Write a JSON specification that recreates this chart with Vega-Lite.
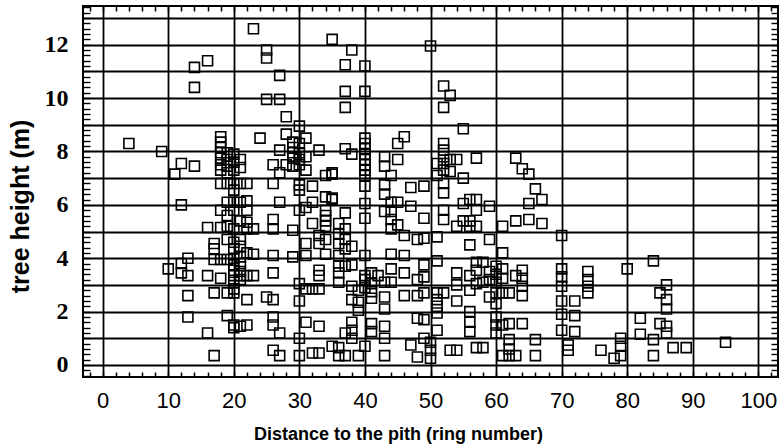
{
  "$schema": "https://vega.github.io/schema/vega-lite/v6.json",
  "width": 695,
  "height": 371,
  "autosize": {"type": "none"},
  "padding": {"left": 83, "top": 6, "right": 2, "bottom": 67},
  "background": "white",
  "config": {
    "view": {"stroke": "black", "strokeWidth": 2},
    "axis": {"domain": false}
  },
  "data": {"values": [
    {"d":4,"h":8.3},{"d":9,"h":8.0},{"d":11,"h":7.15},{"d":12,"h":7.55},{"d":14,"h":7.45},{"d":14,"h":11.15},{"d":16,"h":11.4},{"d":14,"h":10.4},{"d":12,"h":6.0},{"d":16,"h":5.15},{"d":18,"h":5.15},{"d":17,"h":4.55},{"d":17,"h":4.35},{"d":13,"h":4.0},{"d":12,"h":3.8},{"d":10,"h":3.6},{"d":12,"h":3.45},{"d":13,"h":3.35},{"d":16,"h":3.35},{"d":18,"h":3.25},{"d":17,"h":3.95},{"d":18,"h":3.95},{"d":13,"h":2.6},{"d":17,"h":2.7},{"d":13,"h":1.8},{"d":16,"h":1.2},{"d":17,"h":0.35},{"d":19,"h":1.85},{"d":18,"h":8.55},{"d":18,"h":8.35},{"d":18,"h":8.15},{"d":18,"h":7.95},{"d":18,"h":7.75},{"d":18,"h":7.5},{"d":18,"h":7.3},{"d":19,"h":7.95},{"d":19,"h":7.7},{"d":19,"h":7.45},{"d":19,"h":7.2},{"d":18,"h":6.8},{"d":19,"h":6.8},{"d":18,"h":5.8},{"d":19,"h":6.1},{"d":19,"h":5.6},{"d":19,"h":4.7},{"d":19,"h":5.2},{"d":19,"h":3.95},{"d":19,"h":2.7},
    {"d":20,"h":7.9},{"d":20,"h":7.6},{"d":20,"h":7.3},{"d":20,"h":6.8},{"d":20,"h":6.55},{"d":20,"h":6.1},{"d":20,"h":5.8},{"d":20,"h":5.1},{"d":20,"h":4.6},{"d":20,"h":4.35},{"d":20,"h":4.0},{"d":20,"h":3.75},{"d":20,"h":3.55},{"d":20,"h":3.35},{"d":20,"h":3.1},{"d":20,"h":2.85},{"d":20,"h":2.7},{"d":20,"h":1.4},{"d":20,"h":1.5},{"d":21,"h":1.45},{"d":22,"h":1.5},{"d":21,"h":7.7},{"d":21,"h":7.4},{"d":21,"h":6.8},{"d":21,"h":6.1},{"d":21,"h":5.4},{"d":21,"h":4.7},{"d":21,"h":4.45},{"d":21,"h":4.05},{"d":21,"h":3.8},{"d":21,"h":3.5},{"d":21,"h":3.35},{"d":21,"h":3.2},{"d":22,"h":5.8},{"d":22,"h":6.15},{"d":22,"h":5.1},{"d":22,"h":5.35},{"d":22,"h":4.2},{"d":22,"h":3.35},{"d":22,"h":2.45},{"d":23,"h":5.1},{"d":23,"h":4.15},{"d":23,"h":3.35},{"d":23,"h":12.6},{"d":22,"h":6.8},
    {"d":25,"h":11.8},{"d":25,"h":11.5},{"d":35,"h":12.2},{"d":27,"h":10.85},{"d":25,"h":9.95},{"d":27,"h":9.95},{"d":28,"h":9.3},{"d":30,"h":8.95},{"d":24,"h":8.5},{"d":28,"h":8.65},{"d":31,"h":8.5},{"d":29,"h":8.35},{"d":29,"h":8.15},{"d":29,"h":7.95},{"d":29,"h":7.75},{"d":29,"h":7.45},{"d":27,"h":8.05},{"d":33,"h":8.05},{"d":31,"h":7.8},{"d":26,"h":7.5},{"d":28,"h":7.5},{"d":30,"h":7.5},{"d":27,"h":7.2},{"d":34,"h":7.1},{"d":35,"h":7.15},{"d":26,"h":6.8},{"d":30,"h":6.75},{"d":30,"h":6.55},{"d":32,"h":6.7},{"d":34,"h":6.3},{"d":35,"h":6.25},{"d":27,"h":6.1},{"d":30,"h":5.8},{"d":31,"h":5.9},{"d":32,"h":6.1},{"d":34,"h":5.8},{"d":34,"h":5.6},{"d":34,"h":5.4},{"d":34,"h":5.2},{"d":26,"h":5.45},{"d":26,"h":5.1},{"d":29,"h":5.05},{"d":32,"h":5.3},{"d":33,"h":4.85},{"d":33,"h":4.55},{"d":34,"h":4.7},{"d":36,"h":4.55},{"d":31,"h":4.55},{"d":26,"h":4.1},{"d":29,"h":4.05},{"d":31,"h":4.1},{"d":34,"h":4.15},{"d":36,"h":4.1},{"d":26,"h":3.45},{"d":33,"h":3.55},{"d":33,"h":3.35},{"d":36,"h":3.45},{"d":36,"h":3.1},{"d":30,"h":3.05},{"d":31,"h":2.85},{"d":32,"h":2.85},{"d":33,"h":2.85},{"d":25,"h":2.55},{"d":26,"h":2.45},{"d":30,"h":2.4},{"d":26,"h":1.8},{"d":26,"h":1.5},{"d":27,"h":1.2},{"d":31,"h":1.6},{"d":33,"h":1.45},{"d":30,"h":1.0},{"d":26,"h":0.55},{"d":27,"h":0.35},{"d":30,"h":0.35},{"d":32,"h":0.45},{"d":33,"h":0.45},{"d":36,"h":0.65},{"d":30,"h":7.95},{"d":30,"h":7.7},{"d":30,"h":8.3},{"d":31,"h":7.3},
    {"d":50,"h":11.95},{"d":38,"h":11.8},{"d":37,"h":11.25},{"d":40,"h":11.2},{"d":37,"h":10.25},{"d":40,"h":10.25},{"d":37,"h":9.65},{"d":52,"h":10.45},{"d":53,"h":10.1},{"d":52,"h":9.65},{"d":46,"h":8.55},{"d":45,"h":8.3},{"d":37,"h":8.1},{"d":38,"h":7.9},{"d":40,"h":8.5},{"d":40,"h":8.3},{"d":40,"h":8.1},{"d":40,"h":7.9},{"d":40,"h":7.7},{"d":40,"h":7.5},{"d":40,"h":7.3},{"d":40,"h":7.1},{"d":43,"h":7.8},{"d":43,"h":7.45},{"d":45,"h":7.7},{"d":44,"h":7.1},{"d":52,"h":8.3},{"d":52,"h":8.05},{"d":52,"h":7.8},{"d":52,"h":7.55},{"d":52,"h":7.3},{"d":51,"h":7.55},{"d":51,"h":7.1},{"d":53,"h":7.7},{"d":53,"h":7.25},{"d":35,"h":7.2},{"d":43,"h":6.75},{"d":43,"h":6.4},{"d":47,"h":6.65},{"d":49,"h":6.7},{"d":40,"h":6.7},{"d":40,"h":6.05},{"d":40,"h":5.5},{"d":52,"h":6.8},{"d":52,"h":6.45},{"d":37,"h":5.7},{"d":35,"h":6.2},{"d":44,"h":6.1},{"d":45,"h":6.1},{"d":43,"h":5.75},{"d":44,"h":5.75},{"d":47,"h":5.95},{"d":49,"h":5.5},{"d":52,"h":5.8},{"d":52,"h":5.45},{"d":44,"h":5.45},{"d":44,"h":5.1},{"d":45,"h":5.25},{"d":46,"h":4.85},{"d":48,"h":4.7},{"d":49,"h":4.75},{"d":51,"h":4.8},{"d":37,"h":5.1},{"d":37,"h":4.7},{"d":37,"h":4.35},{"d":36,"h":5.3},{"d":36,"h":4.9},{"d":38,"h":4.45},{"d":40,"h":4.1},{"d":44,"h":4.15},{"d":46,"h":4.1},{"d":51,"h":3.9},{"d":49,"h":3.75},{"d":49,"h":3.3},{"d":44,"h":3.6},{"d":46,"h":3.45},{"d":37,"h":3.7},{"d":38,"h":3.75},{"d":36,"h":3.7},{"d":41,"h":3.45},{"d":42,"h":3.35},{"d":43,"h":3.1},{"d":44,"h":3.1},{"d":48,"h":3.2},{"d":38,"h":2.95},{"d":39,"h":2.8},{"d":41,"h":3.05},{"d":41,"h":2.75},{"d":41,"h":2.5},{"d":43,"h":2.55},{"d":43,"h":2.1},{"d":46,"h":2.6},{"d":48,"h":2.6},{"d":49,"h":2.7},{"d":51,"h":2.7},{"d":52,"h":2.7},{"d":51,"h":2.45},{"d":51,"h":2.2},{"d":51,"h":1.95},{"d":38,"h":2.45},{"d":39,"h":2.35},{"d":39,"h":2.05},{"d":38,"h":1.6},{"d":38,"h":1.3},{"d":41,"h":1.55},{"d":41,"h":1.25},{"d":43,"h":1.45},{"d":43,"h":1.0},{"d":48,"h":1.75},{"d":49,"h":1.7},{"d":51,"h":1.3},{"d":37,"h":1.2},{"d":38,"h":1.0},{"d":40,"h":0.7},{"d":37,"h":0.35},{"d":39,"h":0.35},{"d":43,"h":0.35},{"d":47,"h":0.75},{"d":48,"h":0.3},{"d":49,"h":1.0},{"d":50,"h":0.85},{"d":50,"h":0.55},{"d":50,"h":0.25},{"d":53,"h":0.55},{"d":35,"h":0.7},{"d":36,"h":0.35},{"d":40,"h":3.35},{"d":40,"h":3.2},{"d":40,"h":2.9},
    {"d":55,"h":8.85},{"d":54,"h":7.7},{"d":57,"h":7.75},{"d":55,"h":7.0},{"d":63,"h":7.75},{"d":64,"h":7.35},{"d":65,"h":7.15},{"d":66,"h":6.6},{"d":67,"h":6.2},{"d":65,"h":6.05},{"d":55,"h":6.05},{"d":56,"h":6.2},{"d":57,"h":6.2},{"d":59,"h":5.95},{"d":57,"h":5.8},{"d":55,"h":5.4},{"d":56,"h":5.4},{"d":54,"h":5.2},{"d":56,"h":5.2},{"d":57,"h":5.2},{"d":61,"h":5.2},{"d":63,"h":5.4},{"d":65,"h":5.45},{"d":67,"h":5.3},{"d":56,"h":4.5},{"d":59,"h":4.7},{"d":61,"h":4.2},{"d":57,"h":3.85},{"d":58,"h":3.85},{"d":54,"h":3.45},{"d":56,"h":3.35},{"d":57,"h":3.55},{"d":59,"h":3.5},{"d":59,"h":3.2},{"d":60,"h":3.7},{"d":60,"h":3.4},{"d":60,"h":3.1},{"d":61,"h":3.6},{"d":61,"h":3.25},{"d":63,"h":3.35},{"d":64,"h":3.55},{"d":64,"h":3.25},{"d":64,"h":2.95},{"d":64,"h":2.6},{"d":54,"h":3.0},{"d":54,"h":2.4},{"d":56,"h":2.8},{"d":57,"h":3.05},{"d":58,"h":3.1},{"d":59,"h":2.55},{"d":60,"h":2.7},{"d":60,"h":2.3},{"d":61,"h":2.7},{"d":62,"h":2.7},{"d":56,"h":2.0},{"d":56,"h":1.6},{"d":56,"h":1.25},{"d":60,"h":1.8},{"d":60,"h":1.5},{"d":60,"h":1.2},{"d":61,"h":1.5},{"d":62,"h":1.55},{"d":64,"h":1.55},{"d":54,"h":0.55},{"d":57,"h":0.65},{"d":58,"h":0.65},{"d":61,"h":0.35},{"d":62,"h":0.35},{"d":63,"h":0.35},{"d":62,"h":0.6},{"d":62,"h":0.95},{"d":66,"h":0.95},{"d":66,"h":0.35},
    {"d":70,"h":4.85},{"d":70,"h":3.6},{"d":70,"h":3.3},{"d":70,"h":2.95},{"d":74,"h":3.5},{"d":74,"h":3.2},{"d":74,"h":2.95},{"d":74,"h":2.7},{"d":70,"h":2.4},{"d":72,"h":2.4},{"d":70,"h":1.9},{"d":72,"h":1.85},{"d":70,"h":1.3},{"d":72,"h":1.25},{"d":71,"h":0.75},{"d":71,"h":0.55},{"d":76,"h":0.55},{"d":78,"h":0.25},{"d":79,"h":1.0},{"d":79,"h":0.7},{"d":79,"h":0.35},{"d":80,"h":3.6},{"d":84,"h":3.9},{"d":86,"h":3.0},{"d":85,"h":2.7},{"d":86,"h":2.45},{"d":86,"h":2.1},{"d":82,"h":1.75},{"d":85,"h":1.55},{"d":86,"h":1.45},{"d":86,"h":1.2},{"d":82,"h":1.15},{"d":84,"h":0.95},{"d":84,"h":0.35},{"d":87,"h":0.65},{"d":89,"h":0.65},{"d":95,"h":0.85}
  ]},
  "layer": [
    {
      "mark": {"type": "point", "shape": "square", "filled": false, "size": 100, "stroke": "black", "strokeWidth": 1.6, "opacity": 1},
      "encoding": {
        "x": {
          "field": "d", "type": "quantitative",
          "scale": {"domain": [-3, 103], "nice": false, "zero": false},
          "axis": {
            "orient": "bottom",
            "values": [-2,0,2,4,6,8,10,12,14,16,18,20,22,24,26,28,30,32,34,36,38,40,42,44,46,48,50,52,54,56,58,60,62,64,66,68,70,72,74,76,78,80,82,84,86,88,90,92,94,96,98,100,102],
            "grid": true,
            "gridColor": "black",
            "gridWidth": 1.8,
            "gridOpacity": {"condition": {"test": "datum.value % 10 === 0", "value": 1}, "value": 0},
            "ticks": true, "tickSize": -5, "tickColor": "black", "tickWidth": 1.5,
            "labelExpr": "datum.value % 10 === 0 && datum.value >= 0 && datum.value <= 100 ? datum.label : ''",
            "labelFont": "Liberation Sans", "labelFontSize": 22, "labelColor": "black",
            "labelPadding": 18, "labelOverlap": false, "labelBound": false, "labelFlush": false,
            "title": "Distance to the pith (ring number)",
            "titleFont": "Liberation Sans", "titleFontSize": 18, "titleFontWeight": "bold", "titleColor": "black",
            "titleX": 315, "titleY": 62, "titleAlign": "center", "titleBaseline": "alphabetic", "titleAnchor": null
          }
        },
        "y": {
          "field": "h", "type": "quantitative",
          "scale": {"domain": [-0.45, 13.45], "nice": false, "zero": false},
          "axis": {
            "orient": "left",
            "values": [-0.4,-0.2,0,0.2,0.4,0.6,0.8,1,1.2,1.4,1.6,1.8,2,2.2,2.4,2.6,2.8,3,3.2,3.4,3.6,3.8,4,4.2,4.4,4.6,4.8,5,5.2,5.4,5.6,5.8,6,6.2,6.4,6.6,6.8,7,7.2,7.4,7.6,7.8,8,8.2,8.4,8.6,8.8,9,9.2,9.4,9.6,9.8,10,10.2,10.4,10.6,10.8,11,11.2,11.4,11.6,11.8,12,12.2,12.4,12.6,12.8,13,13.2,13.4],
            "grid": true,
            "gridColor": "black",
            "gridWidth": 1.8,
            "gridOpacity": {"condition": {"test": "abs(datum.value - round(datum.value)) < 0.01", "value": 1}, "value": 0},
            "ticks": true, "tickSize": -7, "tickColor": "black", "tickWidth": 1.4,
            "labelExpr": "abs(datum.value - round(datum.value)) < 0.01 && round(datum.value) % 2 === 0 && datum.value >= 0 && datum.value <= 12.5 ? format(round(datum.value), 'd') : ''",
            "labelFont": "Liberation Serif", "labelFontSize": 24, "labelFontWeight": "bold", "labelColor": "black",
            "labelPadding": 22, "labelOverlap": false, "labelBound": false, "labelFlush": false,
            "title": "tree height (m)",
            "titleFont": "Liberation Sans", "titleFontSize": 25, "titleFontWeight": "bold", "titleColor": "black",
            "titleX": -63, "titleY": 200, "titleAngle": 270, "titleAlign": "center", "titleBaseline": "middle", "titleAnchor": null
          }
        }
      }
    },
    {
      "mark": {"type": "point", "opacity": 0},
      "encoding": {
        "x": {
          "field": "d", "type": "quantitative",
          "scale": {"domain": [-3, 103], "nice": false, "zero": false},
          "axis": {
            "orient": "top",
            "values": [-2,0,2,4,6,8,10,12,14,16,18,20,22,24,26,28,30,32,34,36,38,40,42,44,46,48,50,52,54,56,58,60,62,64,66,68,70,72,74,76,78,80,82,84,86,88,90,92,94,96,98,100,102],
            "grid": false, "labels": false, "title": null,
            "ticks": true, "tickSize": -5, "tickColor": "black", "tickWidth": 1.5
          }
        },
        "y": {
          "field": "h", "type": "quantitative",
          "scale": {"domain": [-0.45, 13.45], "nice": false, "zero": false},
          "axis": {
            "orient": "right",
            "values": [-0.4,-0.2,0,0.2,0.4,0.6,0.8,1,1.2,1.4,1.6,1.8,2,2.2,2.4,2.6,2.8,3,3.2,3.4,3.6,3.8,4,4.2,4.4,4.6,4.8,5,5.2,5.4,5.6,5.8,6,6.2,6.4,6.6,6.8,7,7.2,7.4,7.6,7.8,8,8.2,8.4,8.6,8.8,9,9.2,9.4,9.6,9.8,10,10.2,10.4,10.6,10.8,11,11.2,11.4,11.6,11.8,12,12.2,12.4,12.6,12.8,13,13.2,13.4],
            "grid": false, "labels": false, "title": null,
            "ticks": true, "tickSize": -7, "tickColor": "black", "tickWidth": 1.4
          }
        }
      }
    }
  ],
  "resolve": {"scale": {"x": "independent", "y": "independent"}, "axis": {"x": "independent", "y": "independent"}}
}
